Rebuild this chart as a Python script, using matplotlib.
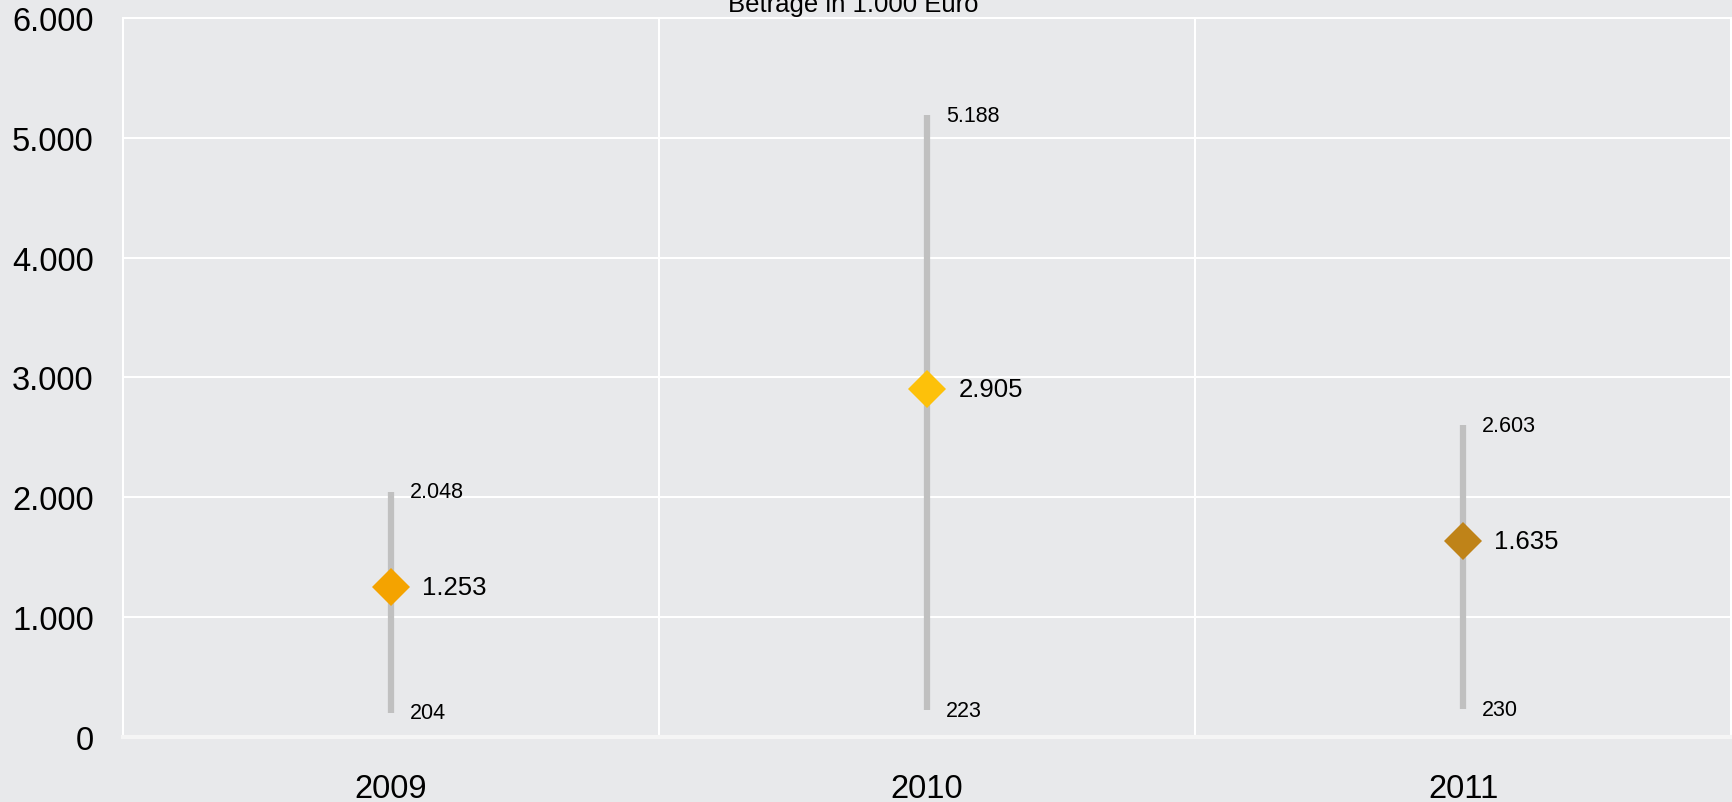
import matplotlib.pyplot as plt
from matplotlib.ticker import FuncFormatter

years = ['2009', '2010', '2011']
min_vals = [204, 223, 230]
mean_vals = [1253, 2905, 1635]
max_vals = [2048, 5188, 2603]
colors = ['#F4A300', '#FDC10A', '#BF8318']

bg = '#E8E9EB'
plt.rcParams['font.family'] = ['Liberation Sans', 'DejaVu Sans']

fig = plt.figure(figsize=(17.33, 8.03), dpi=100, facecolor=bg)
ax = fig.add_axes([0.071, 0.081, 0.928, 0.8953])
ax.set_facecolor(bg)

x = list(range(len(years)))

ax.vlines(x, min_vals, max_vals, color='#C0C0C0', lw=4.5, zorder=2)
for i in x:
    ax.plot(i, mean_vals[i], marker='D', markersize=19.5, color=colors[i],
            markeredgewidth=0, zorder=3)
    ax.annotate(f"{mean_vals[i]:,}".replace(',', '.'), (i, mean_vals[i]),
                xytext=(22.5, 0), textcoords='offset points', va='center',
                ha='left', fontsize=18.5)
    ax.annotate(f"{max_vals[i]:,}".replace(',', '.'), (i, max_vals[i]),
                xytext=(13.5, 0), textcoords='offset points', va='center',
                ha='left', fontsize=15.5)
    ax.annotate(f"{min_vals[i]:,}".replace(',', '.'), (i, min_vals[i]),
                xytext=(13.5, 0), textcoords='offset points', va='center',
                ha='left', fontsize=15.5)

ax.set_xlim(-0.5, 2.5)
ax.set_ylim(0, 6000)
ax.set_yticks(range(0, 6001, 1000))
ax.yaxis.set_major_formatter(FuncFormatter(lambda v, p: f"{int(v):,}".replace(',', '.')))
ax.set_xticks(x)
ax.set_xticklabels(years)
ax.set_xticks([0.5, 1.5], minor=True)

ax.grid(axis='y', which='major', color='white', lw=1.5, zorder=0)
ax.grid(axis='x', which='minor', color='white', lw=1.5, zorder=0)
ax.set_axisbelow(True)

ax.tick_params(axis='y', which='both', length=0, labelsize=23.5, pad=21)
ax.tick_params(axis='x', which='both', length=0, labelsize=23.5, pad=26)

for s in ['left', 'top', 'right']:
    ax.spines[s].set_color('white')
    ax.spines[s].set_linewidth(1.5)
ax.spines['bottom'].set_color('#F5F5F5')
ax.spines['bottom'].set_linewidth(3)

fig.text(853 / 1733, 1 - 12 / 803, 'Beträge in 1.000 Euro', ha='center',
         va='baseline', fontsize=18.5)

fig.savefig('out.png', dpi=100, facecolor=bg)
